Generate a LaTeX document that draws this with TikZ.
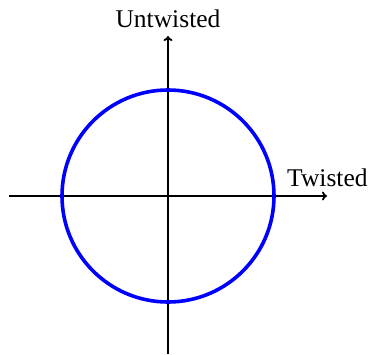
\documentclass[tikz,border=0pt]{standalone}
\usepackage{fontspec}
\setmainfont{Liberation Serif}
\usetikzlibrary{arrows.meta}
\begin{document}
\begin{tikzpicture}[x=1pt,y=-1pt,
  axis/.style={line width=1.8pt,-{To[length=5pt,width=9pt]}},
  ring/.style={draw=blue,line width=3.6pt},
  lbl/.style={font=\fontsize{25.5}{30}\selectfont,inner sep=0pt}]
\useasboundingbox (0,0) rectangle (369,354);
\coordinate (o) at (168,196);
\coordinate (xl) at (9,196);
\coordinate (xr) at (327,196);
\coordinate (yb) at (168,354);
\coordinate (yt) at (168,36);
\draw[axis] (xl) -- (xr);
\draw[axis] (yb) -- (yt);
\draw[ring] (o) circle[radius=106];
\node[lbl,anchor=base] (u) at (168,27) {Untwisted};
\node[lbl,anchor=base west] (t) at (287,186) {Twisted};
\end{tikzpicture}
\end{document}
